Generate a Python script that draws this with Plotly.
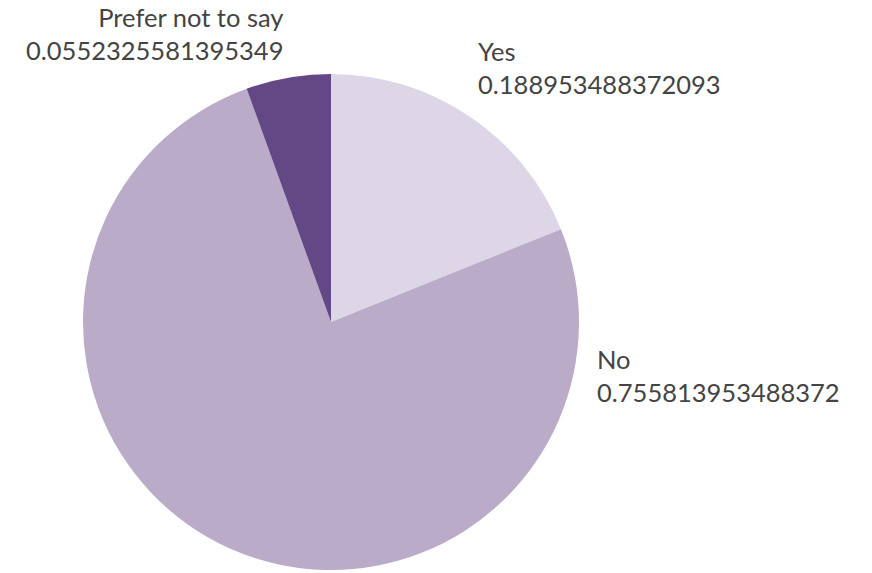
import plotly.graph_objects as go

# Survey responses as shares of the total
labels = ["Yes", "No", "Prefer not to say"]
values = [0.188953488372093, 0.755813953488372, 0.0552325581395349]
colors = ["#dcd6e6", "#baabc9", "#644886"]

W, H = 872, 573

# Label anchor points (pixels from top-left) and horizontal anchoring
label_pos = [(477, 67, "left"), (596, 375, "left"), (284, 34, "right")]

fig = go.Figure(
    go.Pie(
        labels=labels,
        values=values,
        textinfo="none",
        sort=False,
        direction="clockwise",
        rotation=0,
        marker=dict(colors=colors, line=dict(width=0)),
        showlegend=False,
        domain=dict(x=[83 / W, 579 / W], y=[1 - 570 / H, 1 - 74 / H]),
        hoverinfo="label+value",
    )
)

for lab, val, (px, py, anchor) in zip(labels, values, label_pos):
    fig.add_annotation(
        x=px / W,
        y=1 - py / H,
        xref="paper",
        yref="paper",
        xanchor=anchor,
        yanchor="middle",
        align=anchor,
        text=f"{lab}<br>{val!r}",
        showarrow=False,
        borderpad=0,
    )

fig.update_layout(
    width=W,
    height=H,
    margin=dict(l=0, r=0, t=0, b=0),
    paper_bgcolor="white",
    font=dict(family="Lato", size=25.5, color="#444444"),
)

fig.write_html("out.html")
